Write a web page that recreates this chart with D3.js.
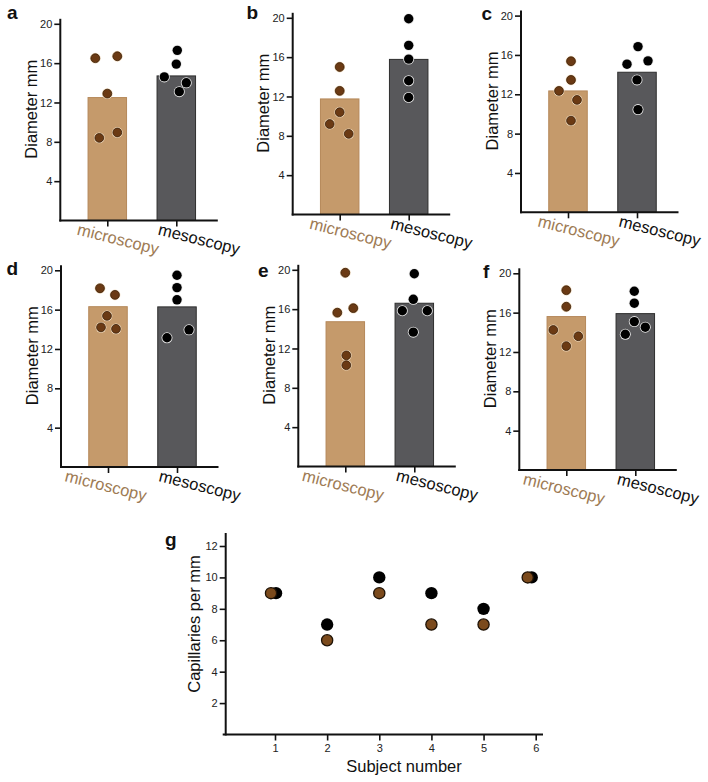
<!DOCTYPE html>
<html>
<head>
<meta charset="utf-8">
<script src="https://cdn.jsdelivr.net/npm/d3@7"></script>
<style>
  html, body { margin: 0; padding: 0; background: #fff; }
  svg { display: block; font-family: "Liberation Sans", Arial, sans-serif; }
</style>
</head>
<body>
<svg id="chart" width="708" height="782"></svg>
<script>
// ---------------- DATA ----------------
const categories = ["microscopy", "mesoscopy"];
const panelLetters = ["a", "b", "c", "d", "e", "f"];
const yTicks = [4, 8, 12, 16, 20];

const microMeans = [12.5, 11.75, 12.34, 16.3, 14.72, 15.6];
const mesoMeans  = [14.7, 15.77, 14.24, 16.28, 16.6, 15.9];

const microPoints = [
  [16.5, 16.7, 12.9, 8.4, 8.95],
  [15.0, 12.57, 10.4, 9.2, 8.2],
  [15.36, 13.46, 12.34, 11.43, 9.32],
  [18.17, 17.5, 15.37, 14.2, 14.05],
  [19.7, 15.64, 16.1, 11.3, 10.3],
  [18.28, 16.6, 14.24, 13.6, 12.6]
];
const mesoPoints = [
  [17.3, 15.9, 14.6, 14.0, 13.1],
  [19.9, 17.2, 15.8, 13.6, 11.9],
  [16.85, 15.06, 15.4, 13.46, 10.44],
  [19.5, 18.24, 17.0, 13.14, 13.95],
  [19.6, 17.0, 15.84, 15.84, 13.66],
  [18.18, 16.96, 15.09, 14.52, 13.8]
];

const subjects = [1, 2, 3, 4, 5, 6];
const capMicro = [9, 6, 9, 7, 7, 10];
const capMeso  = [9, 7, 10, 9, 8, 10];
const gYTicks = [2, 4, 6, 8, 10, 12];

// ---------------- LAYOUT ----------------
const panelPos = [ // [y-axis x, baseline y]
  [60.3, 220.5], [292.7, 214.5], [521, 212.3],
  [61, 467], [298.3, 466.5], [519.3, 470]
];
const letterPos = [[7, 19], [246.5, 18.5], [481.5, 20], [6.5, 275], [258, 276.5], [483, 278]];
const microLabelDx = [-31, -31, -31, -44, -44, -44];
const microJitter = [[-12,10,0,-8,10],[0,0,0,-10,9],[3,3,-9,9,3],[-8,7,-1,-7,8],[0,-8,8,1,1],[0,0,-13,12,0]];
const mesoJitter  = [[1,0,-12,10,3],[0,0,0,0,0],[1,-10,11,0,1],[0,0,0,-10,12],[0,-1,-12,13,-1],[-1,-1,-1,10,-10]];
const gMicroJitter = [-4, 0, 0, 0, 0, -8];
const gMesoJitter  = [1, 0, 0, 0, 0, -4];

const tan = "#c59a6b", tanStroke = "#b5885a", tanText = "#9e7b54";
const gray = "#58585b", grayStroke = "#2e2e2e";
const brownDot = "#6b3a14", brownDotStroke = "#3a1f08";

const svg = d3.select("#chart");

function drawPanel(i) {
  const [ax, y0] = panelPos[i];
  const h = 196.7;
  const g = svg.append("g");

  const y = d3.scaleLinear().domain([0, 20]).range([y0, y0 - h]);
  const x = d3.scalePoint().domain(categories).range([ax + 47, ax + 116]);
  const barW = 38.5;

  // bars
  const means = [microMeans[i], mesoMeans[i]];
  g.selectAll("rect.bar").data(categories).join("rect")
    .attr("x", d => x(d) - barW / 2)
    .attr("y", (d, k) => y(means[k]))
    .attr("width", barW)
    .attr("height", (d, k) => y(0) - y(means[k]))
    .attr("fill", (d, k) => k === 0 ? tan : gray)
    .attr("stroke", (d, k) => k === 0 ? tanStroke : grayStroke)
    .attr("stroke-width", 1);

  // dots - microscopy
  const mp = microPoints[i].map((v, k) => ({v, j: microJitter[i][k]}));
  g.selectAll("circle.mh").data(mp).join("circle")
    .attr("cx", d => x(categories[0]) + d.j).attr("cy", d => y(d.v))
    .attr("r", 5.4).attr("fill", "#f2dcc0");
  g.selectAll("circle.m").data(mp).join("circle")
    .attr("cx", d => x(categories[0]) + d.j).attr("cy", d => y(d.v))
    .attr("r", 4.4).attr("fill", brownDot).attr("stroke", brownDotStroke).attr("stroke-width", 0.8);

  // dots - mesoscopy
  const sp = mesoPoints[i].map((v, k) => ({v, j: mesoJitter[i][k]}));
  g.selectAll("circle.sh").data(sp).join("circle")
    .attr("cx", d => x(categories[1]) + d.j).attr("cy", d => y(d.v))
    .attr("r", 5.5).attr("fill", "#e8e8e8");
  g.selectAll("circle.s").data(sp).join("circle")
    .attr("cx", d => x(categories[1]) + d.j).attr("cy", d => y(d.v))
    .attr("r", 4.7).attr("fill", "#000");

  // y axis
  const yAxis = d3.axisLeft(y).tickValues(yTicks).tickSize(6).tickSizeOuter(0).tickPadding(2);
  const ya = g.append("g").attr("transform", `translate(${ax},0)`).call(yAxis);
  ya.select(".domain").remove();
  ya.selectAll("line").attr("stroke", "#111").attr("stroke-width", 1.6);
  ya.selectAll("text").attr("font-size", 11).attr("fill", "#222");
  g.append("line").attr("x1", ax).attr("x2", ax)
    .attr("y1", y(20) - 5).attr("y2", y0 + 1)
    .attr("stroke", "#111").attr("stroke-width", 2);

  // x axis
  const xAxis = d3.axisBottom(x).tickSize(6).tickSizeOuter(0).tickFormat("");
  const xa = g.append("g").attr("transform", `translate(0,${y0})`).call(xAxis);
  xa.select(".domain").remove();
  xa.selectAll("line").attr("stroke", "#111").attr("stroke-width", 1.6);
  g.append("line").attr("x1", ax - 1).attr("x2", ax + 157.5)
    .attr("y1", y0).attr("y2", y0)
    .attr("stroke", "#111").attr("stroke-width", 2);

  // category labels (rotated)
  g.selectAll("text.cat").data(categories).join("text")
    .attr("transform", (d, k) => {
      const tx = x(d) + (k === 0 ? microLabelDx[i] : -19);
      return `translate(${tx},${y0 + 14}) rotate(14)`;
    })
    .attr("font-size", 16.5)
    .attr("fill", (d, k) => k === 0 ? tanText : "#111")
    .text(d => d);

  // y title
  g.append("text")
    .attr("transform", `translate(${ax - 23.5},${(y(0) + y(20)) / 2 - 13}) rotate(-90)`)
    .attr("text-anchor", "middle")
    .attr("font-size", 16.5).attr("fill", "#111")
    .text("Diameter mm");

  // panel letter
  svg.append("text").attr("x", letterPos[i][0]).attr("y", letterPos[i][1])
    .attr("font-size", 19).attr("font-weight", "bold").attr("fill", "#111")
    .text(panelLetters[i]);
}

for (let i = 0; i < 6; i++) drawPanel(i);

// ---------------- PANEL G ----------------
(function () {
  const ax = 225.7, y0 = 734.5;
  const g = svg.append("g");
  const y = d3.scaleLinear().domain([0, 12]).range([y0, 546]);
  const x = d3.scaleLinear().domain([1, 6]).range([275, 535.7]);

  // mesoscopy (black) first, microscopy on top
  g.selectAll("circle.gs").data(subjects).join("circle")
    .attr("cx", (d, k) => x(d) + gMesoJitter[k]).attr("cy", (d, k) => y(capMeso[k]))
    .attr("r", 6.2).attr("fill", "#000");
  g.selectAll("circle.gm").data(subjects).join("circle")
    .attr("cx", (d, k) => x(d) + gMicroJitter[k]).attr("cy", (d, k) => y(capMicro[k]))
    .attr("r", 5.6).attr("fill", "#7b4a1c").attr("stroke", "#1e1206").attr("stroke-width", 1.3);

  const yAxis = d3.axisLeft(y).tickValues(gYTicks).tickSize(6).tickSizeOuter(0).tickPadding(2);
  const ya = g.append("g").attr("transform", `translate(${ax},0)`).call(yAxis);
  ya.select(".domain").remove();
  ya.selectAll("line").attr("stroke", "#111").attr("stroke-width", 1.6);
  ya.selectAll("text").attr("font-size", 11).attr("fill", "#222");
  g.append("line").attr("x1", ax).attr("x2", ax).attr("y1", 533).attr("y2", y0 + 1)
    .attr("stroke", "#111").attr("stroke-width", 2);

  const xAxis = d3.axisBottom(x).tickValues(subjects).tickSize(6).tickSizeOuter(0).tickPadding(4).tickFormat(d3.format("d"));
  const xa = g.append("g").attr("transform", `translate(0,${y0})`).call(xAxis);
  xa.select(".domain").remove();
  xa.selectAll("line").attr("stroke", "#111").attr("stroke-width", 1.6);
  xa.selectAll("text").attr("font-size", 11).attr("fill", "#222");
  g.append("line").attr("x1", ax - 3).attr("x2", 543).attr("y1", y0).attr("y2", y0)
    .attr("stroke", "#111").attr("stroke-width", 2);

  g.append("text").attr("x", 404).attr("y", 771.5).attr("text-anchor", "middle")
    .attr("font-size", 16.5).attr("fill", "#111").text("Subject number");
  g.append("text")
    .attr("transform", `translate(${ax - 26},624) rotate(-90)`)
    .attr("text-anchor", "middle").attr("font-size", 16.5).attr("fill", "#111")
    .text("Capillaries per mm");
  svg.append("text").attr("x", 165).attr("y", 546).attr("font-size", 19)
    .attr("font-weight", "bold").attr("fill", "#111").text("g");
})();
</script>
</body>
</html>
